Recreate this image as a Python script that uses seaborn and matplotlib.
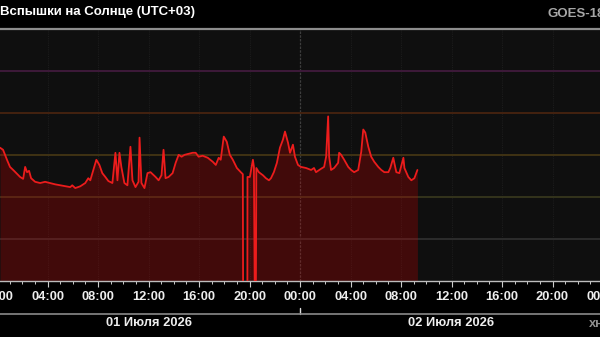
import numpy as np
import pandas as pd
import matplotlib
matplotlib.use("Agg")
import matplotlib.pyplot as plt
import matplotlib.dates as mdates
from matplotlib.transforms import blended_transform_factory
from matplotlib.lines import Line2D
import seaborn as sns

# ---- data (hours since 2026-07-01 00:00 UTC+03, X-ray flux W/m^2) ----
hours = [0.24, 0.48, 0.79, 1.03, 1.35, 1.83, 2.07, 2.23, 2.38, 2.54, 2.70, 3.02, 3.42, 3.81,
         4.21, 4.61, 5.01, 5.40, 5.80, 5.96, 6.20, 6.60, 6.99, 7.23, 7.39, 7.63, 7.87, 8.11,
         8.34, 8.58, 8.82, 9.14, 9.38, 9.54, 9.70, 9.85, 10.09, 10.33, 10.57, 10.73, 10.97,
         11.21, 11.29, 11.44, 11.68, 11.92, 12.16, 12.56, 12.80, 13.03, 13.19, 13.35, 13.59,
         13.91, 14.15, 14.39, 14.62, 14.86, 15.18, 15.50, 15.74, 15.97, 16.29, 16.69, 17.09,
         17.33, 17.56, 17.72, 17.96, 18.20, 18.44, 18.68, 19.00, 19.31, 19.47, 19.50, 19.83,
         19.84, 20.03, 20.27, 20.35, 20.43, 20.50, 20.54, 20.74, 21.06, 21.30, 21.54, 21.70,
         21.93, 22.17, 22.41, 22.65, 22.81, 23.05, 23.21, 23.44, 23.60, 23.84, 24.08, 24.48,
         24.88, 25.11, 25.27, 25.67, 25.91, 26.07, 26.23, 26.31, 26.46, 26.70, 27.02, 27.10,
         27.26, 27.50, 27.82, 28.05, 28.29, 28.61, 28.85, 29.01, 29.17, 29.41, 29.64, 29.88,
         30.20, 30.44, 30.68, 31.00, 31.15, 31.39, 31.47, 31.63, 31.87, 32.19, 32.27, 32.58,
         32.82, 33.06, 33.30]
flux = [1.49e-6, 1.33e-6, 7.7e-7, 5.2e-7, 4.2e-7, 3.0e-7, 2.7e-7, 5.2e-7, 3.9e-7, 4.2e-7,
        2.8e-7, 2.3e-7, 2.15e-7, 2.3e-7, 2.15e-7, 2.0e-7, 1.9e-7, 1.8e-7, 1.72e-7, 1.9e-7,
        1.63e-7, 1.8e-7, 2.15e-7, 2.8e-7, 2.5e-7, 4.4e-7, 7.7e-7, 5.8e-7, 3.7e-7, 3.0e-7,
        2.4e-7, 2.15e-7, 1.13e-6, 2.5e-7, 1.13e-6, 5.2e-7, 2.15e-7, 1.9e-7, 1.57e-6, 2.5e-7,
        1.72e-7, 2.3e-7, 2.59e-6, 2.15e-7, 1.63e-7, 3.7e-7, 3.9e-7, 3.0e-7, 2.5e-7, 3.3e-7,
        1.33e-6, 2.8e-7, 3.0e-7, 3.7e-7, 6.5e-7, 1.01e-6, 9.1e-7, 1.01e-6, 1.07e-6, 1.13e-6,
        1.13e-6, 9.1e-7, 9.6e-7, 8.6e-7, 6.9e-7, 5.8e-7, 8.6e-7, 7.7e-7, 2.74e-6, 2.07e-6,
        1.01e-6, 7.7e-7, 4.9e-7, 3.9e-7, 3.5e-7, 1e-10, 1e-10, 3.0e-7, 3.0e-7, 7.7e-7, 5.2e-7,
        1e-10, 1e-10, 4.9e-7, 3.9e-7, 3.3e-7, 2.8e-7, 2.5e-7, 2.8e-7, 3.9e-7, 6.5e-7, 1.49e-6,
        2.32e-6, 3.61e-6, 1.96e-6, 1.13e-6, 1.76e-6, 9.1e-7, 5.8e-7, 5.2e-7, 4.9e-7, 4.4e-7,
        4.9e-7, 3.9e-7, 4.7e-7, 5.2e-7, 9.1e-7, 8.3e-6, 9.1e-7, 4.4e-7, 4.9e-7, 6.5e-7,
        1.13e-6, 1.01e-6, 7.7e-7, 5.2e-7, 4.4e-7, 3.9e-7, 4.4e-7, 1.19e-6, 4.04e-6, 3.42e-6,
        1.57e-6, 9.1e-7, 6.9e-7, 5.2e-7, 4.4e-7, 3.9e-7, 3.9e-7, 4.9e-7, 8.6e-7, 6.5e-7,
        3.9e-7, 3.7e-7, 8.6e-7, 4.9e-7, 3.0e-7, 2.5e-7, 2.8e-7, 4.4e-7]

class_levels = [1e-4, 1e-5, 1e-6, 1e-7, 1e-8]
class_colors = ["#3e1a3a", "#44220f", "#403214", "#34341c", "#2c2c2c"]
day_labels = ["01 Июля 2026", "02 Июля 2026"]
title = "Вспышки на Солнце (UTC+03)"
source = "GOES-18"

start = pd.Timestamp("2026-07-01 00:00")
df = pd.DataFrame({"time": start + pd.to_timedelta(hours, unit="h"), "flux": flux})

sns.set_theme(style="dark")
plt.rcParams["font.family"] = ["Liberation Sans", "DejaVu Sans"]
plt.rcParams["font.weight"] = "bold"

fig = plt.figure(figsize=(6.0, 3.37), dpi=100, facecolor="black")
# axes slightly wider than the figure: the 00:00 ticks at both ends sit just outside
ax = fig.add_axes([-3 / 600, 56 / 337, 606 / 600, 252 / 337])
ax.set_facecolor("#0f0f0f")

ax.set_yscale("log")
ax.set_ylim(1e-9, 1e-3)
ax.set_xlim(start, start + pd.Timedelta(hours=48))

# faint vertical grid
for h in range(0, 49, 4):
    t = start + pd.Timedelta(hours=h)
    if h % 24 == 0:
        ax.axvline(t, color="#3d3d3d", lw=0.9, ls=(0, (2, 1)), zorder=1)
    else:
        ax.axvline(t, color="#1c1c1c", lw=0.8, ls=(0, (1, 1)), zorder=1)

for lvl, c in zip(class_levels, class_colors):
    ax.axhline(lvl, color=c, lw=1.4, zorder=1)

ax.fill_between(df["time"], df["flux"], 1e-12, color="#c80000", alpha=0.27, lw=0, zorder=2)
sns.lineplot(data=df, x="time", y="flux", ax=ax, color="#ec1c1c", lw=1.3,
             estimator=None, zorder=3)
ax.set_xlabel("")
ax.set_ylabel("")

# axes styling
for s in ["left", "right"]:
    ax.spines[s].set_visible(False)
ax.spines["top"].set_color("#8c8c8c")
ax.spines["top"].set_linewidth(1.6)
ax.spines["bottom"].set_color("#bdbdbd")
ax.spines["bottom"].set_linewidth(1.0)
ax.yaxis.set_major_locator(matplotlib.ticker.NullLocator())
ax.yaxis.set_minor_locator(matplotlib.ticker.NullLocator())
ax.grid(False)

ax.xaxis.set_major_locator(mdates.HourLocator(byhour=range(0, 24, 4)))
ax.xaxis.set_minor_locator(mdates.HourLocator())
ax.xaxis.set_major_formatter(mdates.DateFormatter("%H:%M"))
ax.tick_params(axis="x", which="major", length=4.5, width=0.8, color="#cccccc",
               labelcolor="#eeeeee", labelsize=9.3, pad=3, bottom=True)
ax.tick_params(axis="x", which="minor", length=2.2, width=0.7, color="#cccccc", bottom=True)
for lab in ax.get_xticklabels():
    lab.set_fontweight("bold")

# date row
fig.add_artist(Line2D([0, 1], [1 - 314 / 337, 1 - 314 / 337], color="#8a8a8a", lw=1.2,
                      transform=fig.transFigure))
tr = blended_transform_factory(ax.transData, fig.transFigure)
for d in range(3):
    t = mdates.date2num(start + pd.Timedelta(days=d))
    ax.plot([t, t], [1 - 314 / 337, 1 - 308 / 337], color="#dddddd", lw=1.0,
            transform=tr, clip_on=False)
for d, lab in enumerate(day_labels):
    t = mdates.date2num(start + pd.Timedelta(hours=24 * d + 12))
    ax.text(t, 1 - 323 / 337, lab, transform=tr, ha="center", va="center",
            color="#eeeeee", fontsize=9.3, fontweight="bold", clip_on=False)

fig.text(0.0, 1 - 12 / 337, title, ha="left", va="center", color="white",
         fontsize=9.5, fontweight="bold")
fig.text(547 / 600, 1 - 14 / 337, source, ha="left", va="center", color="#a6a6a6",
         fontsize=9.5, fontweight="bold")
fig.text(589 / 600, 1 - 324 / 337, "хн", ha="left", va="center", color="#8f8f8f",
         fontsize=9.3, fontweight="bold")

fig.savefig("out.png", dpi=100, facecolor="black")
